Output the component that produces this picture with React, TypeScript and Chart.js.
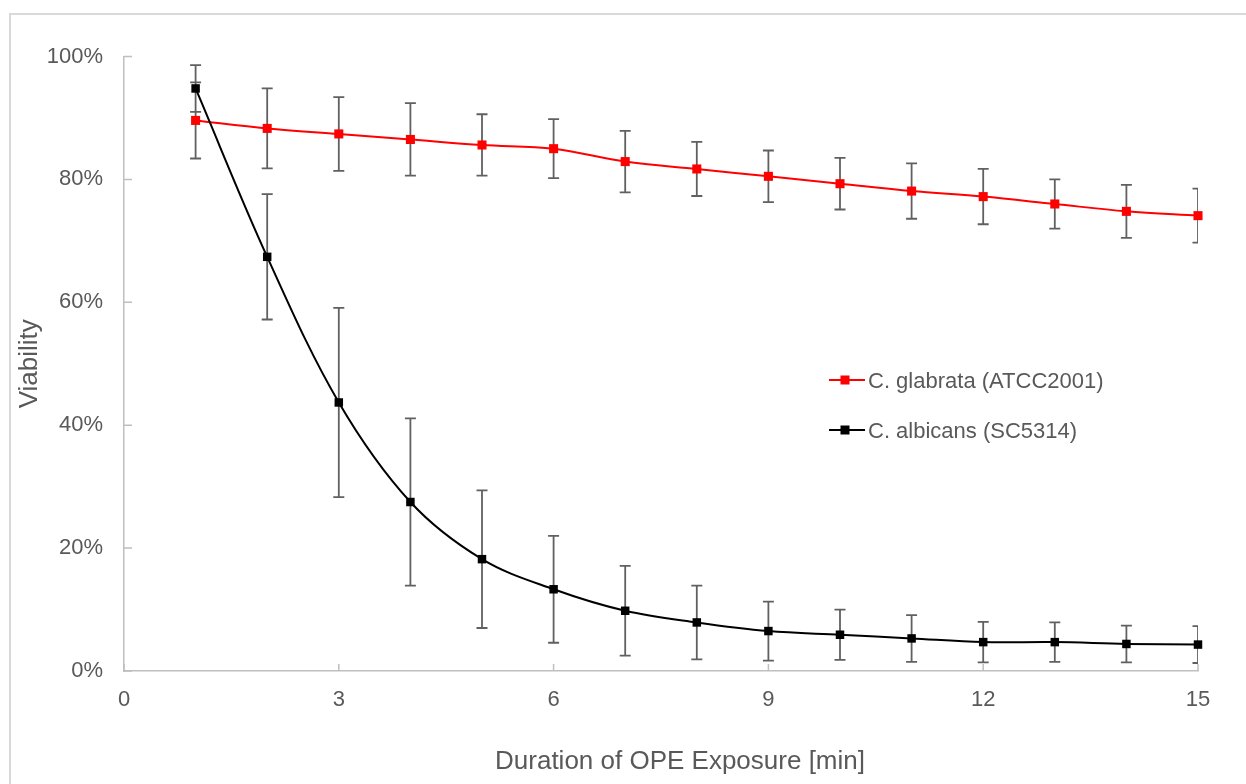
import { useEffect, useRef } from "react";
import { Chart, registerables } from "chart.js";

Chart.register(...registerables);

// Exposure time in minutes
const minutes = [1, 2, 3, 4, 5, 6, 7, 8, 9, 10, 11, 12, 13, 14, 15];

// C. glabrata (ATCC2001): mean viability (%) and standard deviation
const glabrataViability = [89.6, 88.3, 87.4, 86.5, 85.6, 85.0, 82.9, 81.7, 80.5, 79.3, 78.1, 77.2, 76.0, 74.8, 74.1];
const glabrataError = [6.2, 6.5, 6.0, 5.9, 5.0, 4.8, 5.0, 4.4, 4.2, 4.2, 4.5, 4.5, 4.0, 4.3, 4.4];

// C. albicans (SC5314): mean viability (%) and standard deviation
const albicansViability = [94.8, 67.4, 43.7, 27.5, 18.2, 13.3, 9.8, 7.9, 6.5, 5.9, 5.3, 4.7, 4.7, 4.4, 4.3];
const albicansError = [3.8, 10.2, 15.4, 13.6, 11.2, 8.7, 7.3, 6.0, 4.8, 4.1, 3.8, 3.3, 3.2, 3.0, 3.0];

const xTicks = [0, 3, 6, 9, 12, 15];
const yTicks = [0, 20, 40, 60, 80, 100];

const glabrataLabel = "C. glabrata (ATCC2001)";
const albicansLabel = "C. albicans (SC5314)";
const xAxisTitle = "Duration of OPE Exposure [min]";
const yAxisTitle = "Viability";

const RED = "#ff0000";
const BLACK = "#000000";
const TEXT = "#595959";
const AXIS = "#bfbfbf";
const ERR = "#606060";
const FONT = "'Liberation Sans', Arial, Helvetica, sans-serif";

// Light grey outer frame
const framePlugin = {
  id: "frame",
  beforeDraw(chart: any) {
    const { ctx } = chart;
    ctx.save();
    ctx.fillStyle = "#ffffff";
    ctx.fillRect(0, 0, chart.width, chart.height);
    ctx.strokeStyle = "#d9d9d9";
    ctx.lineWidth = 2;
    ctx.strokeRect(10, 14, chart.width + 20, chart.height + 20);
    ctx.restore();
  },
};

// Inward tick marks on both axes
const tickMarksPlugin = {
  id: "tickMarks",
  beforeDatasetsDraw(chart: any) {
    const { ctx, chartArea, scales } = chart;
    ctx.save();
    ctx.strokeStyle = AXIS;
    ctx.lineWidth = 1.5;
    ctx.beginPath();
    for (const v of yTicks) {
      const py = scales.y.getPixelForValue(v);
      ctx.moveTo(chartArea.left, py);
      ctx.lineTo(chartArea.left + 8, py);
    }
    for (const v of xTicks) {
      const px = scales.x.getPixelForValue(v);
      ctx.moveTo(px, chartArea.bottom);
      ctx.lineTo(px, chartArea.bottom - 7);
    }
    ctx.stroke();
    ctx.restore();
  },
};

// Vertical error bars with caps, kept inside the plot area
const errorBarsPlugin = {
  id: "errorBars",
  beforeDatasetsDraw(chart: any) {
    const { ctx, chartArea, scales } = chart;
    const series = [
      { values: glabrataViability, errors: glabrataError },
      { values: albicansViability, errors: albicansError },
    ];
    ctx.save();
    ctx.beginPath();
    ctx.rect(chartArea.left, chartArea.top - 10, chartArea.right - chartArea.left, chartArea.bottom - chartArea.top + 10);
    ctx.clip();
    ctx.strokeStyle = ERR;
    ctx.lineWidth = 1.8;
    ctx.beginPath();
    for (const s of series) {
      minutes.forEach((m, i) => {
        const px = scales.x.getPixelForValue(m);
        const top = scales.y.getPixelForValue(s.values[i] + s.errors[i]);
        const bot = scales.y.getPixelForValue(s.values[i] - s.errors[i]);
        ctx.moveTo(px, top);
        ctx.lineTo(px, bot);
        ctx.moveTo(px - 5.5, top);
        ctx.lineTo(px + 5.5, top);
        ctx.moveTo(px - 5.5, bot);
        ctx.lineTo(px + 5.5, bot);
      });
    }
    ctx.stroke();
    ctx.restore();
  },
};

// Legend placed inside the plot area, plus the horizontal axis title
const annotationsPlugin = {
  id: "annotations",
  afterDraw(chart: any) {
    const { ctx } = chart;
    const items = [
      { label: glabrataLabel, color: RED, y: 380 },
      { label: albicansLabel, color: BLACK, y: 430 },
    ];
    ctx.save();
    for (const it of items) {
      ctx.strokeStyle = it.color;
      ctx.lineWidth = 2;
      ctx.beginPath();
      ctx.moveTo(829, it.y);
      ctx.lineTo(865, it.y);
      ctx.stroke();
      ctx.fillStyle = it.color;
      ctx.fillRect(845 - 4.5, it.y - 4.5, 9, 9);
      ctx.fillStyle = TEXT;
      ctx.font = `22px ${FONT}`;
      ctx.textAlign = "left";
      ctx.textBaseline = "middle";
      ctx.fillText(it.label, 868, it.y + 2);
    }
    ctx.fillStyle = TEXT;
    ctx.font = `26px ${FONT}`;
    ctx.textAlign = "center";
    ctx.textBaseline = "middle";
    ctx.fillText(xAxisTitle, 680, 762);
    ctx.restore();
  },
};

export default function App() {
  const ref = useRef<HTMLCanvasElement>(null);

  useEffect(() => {
    const canvas = ref.current;
    if (!canvas) return;
    const chart = new Chart(canvas, {
      type: "line",
      data: {
        datasets: [
          {
            label: glabrataLabel,
            data: minutes.map((m, i) => ({ x: m, y: glabrataViability[i] })),
            borderColor: RED,
            backgroundColor: RED,
            borderWidth: 2,
            pointStyle: "rect",
            pointRadius: 6.4,
            pointBorderWidth: 0,
            pointHoverRadius: 6.4,
            tension: 0.35,
            clip: false,
            order: 2,
          } as any,
          {
            label: albicansLabel,
            data: minutes.map((m, i) => ({ x: m, y: albicansViability[i] })),
            borderColor: BLACK,
            backgroundColor: BLACK,
            borderWidth: 2,
            pointStyle: "rect",
            pointRadius: 6,
            pointBorderWidth: 0,
            pointHoverRadius: 6,
            tension: 0.35,
            clip: false,
            order: 1,
          } as any,
        ],
      },
      options: {
        responsive: false,
        animation: false,
        events: [],
        layout: { padding: { left: 0, right: 48, top: 56.5, bottom: 0 } },
        plugins: {
          legend: { display: false },
          tooltip: { enabled: false },
        },
        scales: {
          x: {
            type: "linear",
            min: 0,
            max: 15,
            afterBuildTicks: (s: any) => {
              s.ticks = xTicks.map((v) => ({ value: v }));
            },
            afterFit: (s: any) => {
              s.height = 113;
            },
            grid: { display: false, drawTicks: false },
            border: { display: true, color: AXIS, width: 1.5 },
            ticks: { padding: 15.8, color: TEXT, font: { family: FONT, size: 22 } },
            title: { display: false },
          },
          y: {
            type: "linear",
            min: 0,
            max: 100,
            afterBuildTicks: (s: any) => {
              s.ticks = yTicks.map((v) => ({ value: v }));
            },
            afterFit: (s: any) => {
              s.width = 124;
            },
            grid: { display: false, drawTicks: false },
            border: { display: true, color: AXIS, width: 1.5 },
            ticks: {
              padding: 21,
              color: TEXT,
              font: { family: FONT, size: 22 },
              callback: (v: any) => `${v}%`,
            },
            title: {
              display: true,
              text: yAxisTitle,
              color: TEXT,
              font: { family: FONT, size: 26 },
              padding: { top: 14.4, bottom: 0 },
            },
          },
        },
      },
      plugins: [framePlugin, tickMarksPlugin, errorBarsPlugin, annotationsPlugin],
    });
    return () => chart.destroy();
  }, []);

  return (
    <div style={{ position: "fixed", left: 0, top: 0, width: 1246, height: 784, background: "#fff" }}>
      <canvas ref={ref} width={1246} height={784} style={{ display: "block" }} />
    </div>
  );
}
